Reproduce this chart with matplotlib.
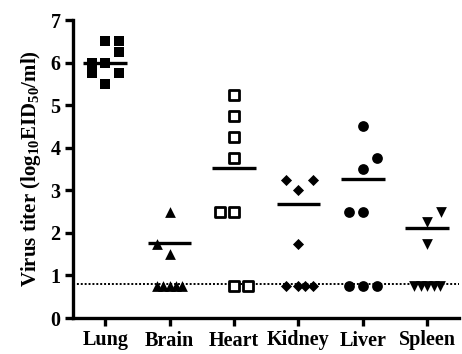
import matplotlib
matplotlib.use("Agg")
import matplotlib.pyplot as plt
import numpy as np

plt.rcParams['font.family'] = ['Liberation Serif', 'DejaVu Serif']
plt.rcParams['font.weight'] = 'bold'
plt.rcParams['mathtext.fontset'] = 'custom'
plt.rcParams['mathtext.rm'] = 'Liberation Serif:bold'
plt.rcParams['mathtext.bf'] = 'Liberation Serif:bold'
plt.rcParams['mathtext.it'] = 'Liberation Serif:bold'
plt.rcParams['mathtext.default'] = 'bf'

categories = ["Lung", "Brain", "Heart", "Kidney", "Liver", "Spleen"]

lung_vals = [6.5, 6.5, 6.25, 6.0, 6.0, 5.75, 5.75, 5.5]
lung_dx = [0.0, 0.21, 0.21, -0.21, 0.0, -0.21, 0.21, 0.0]
brain_vals = [2.5, 1.75, 1.5, 0.75, 0.75, 0.75, 0.75, 0.75]
brain_dx = [0.0, -0.2, 0.0, -0.2, -0.1, 0.0, 0.1, 0.2]
heart_vals = [5.25, 4.75, 4.25, 3.75, 2.5, 2.5, 0.75, 0.75]
heart_dx = [0.0, 0.0, 0.0, 0.0, -0.22, 0.0, 0.0, 0.22]
kidney_vals = [3.25, 3.0, 3.25, 1.75, 0.75, 0.75, 0.75, 0.75]
kidney_dx = [-0.2, 0.0, 0.22, 0.0, -0.2, 0.0, 0.11, 0.22]
liver_vals = [4.5, 3.75, 3.5, 2.5, 2.5, 0.75, 0.75, 0.75]
liver_dx = [0.0, 0.22, 0.0, -0.21, 0.0, -0.21, 0.0, 0.22]
spleen_vals = [2.5, 2.25, 1.75, 0.75, 0.75, 0.75, 0.75, 0.75]
spleen_dx = [0.22, 0.0, 0.0, -0.2, -0.1, 0.0, 0.1, 0.2]

mean_vals = [6.0, 1.77, 3.53, 2.67, 3.27, 2.11]
detection_limit = 0.8

fig = plt.figure(figsize=(4.62, 3.54), dpi=100)
ax = fig.add_axes([73/462, 36/354, 386.4/462, 298/354])

groups = [
    (lung_vals, lung_dx, dict(marker='s', s=55, c='black', linewidths=0)),
    (brain_vals, brain_dx, dict(marker='^', s=60, c='black', linewidths=0)),
    (heart_vals, heart_dx, dict(marker='s', s=50, facecolors='white', edgecolors='black', linewidths=2.0)),
    (kidney_vals, kidney_dx, dict(marker='D', s=32, c='black', linewidths=0)),
    (liver_vals, liver_dx, dict(marker='o', s=60, c='black', linewidths=0)),
    (spleen_vals, spleen_dx, dict(marker='v', s=60, c='black', linewidths=0)),
]
for i, (vals, dx, kw) in enumerate(groups):
    x = i + np.array(dx)
    ax.scatter(x, vals, zorder=3, clip_on=False, **kw)

for i, m in enumerate(mean_vals):
    ax.hlines(m, i - 0.34, i + 0.34, colors='black', linewidth=2.4, zorder=4)

ax.axhline(detection_limit, color='black', linestyle=(0, (1, 1)), linewidth=1.4, zorder=2)

ax.set_xlim(-0.5, 5.5)
ax.set_ylim(0, 7)
ax.set_yticks(range(0, 8))
ax.set_xticks(range(len(categories)))
ax.set_xticklabels(categories)

for side in ['top', 'right']:
    ax.spines[side].set_visible(False)
for side in ['left', 'bottom']:
    ax.spines[side].set_linewidth(2.4)

ax.tick_params(axis='both', which='major', length=6, width=2.4, labelsize=14.5, direction='out')
ax.tick_params(axis='y', pad=3)
ax.tick_params(axis='x', pad=3)
for lbl in ax.get_xticklabels() + ax.get_yticklabels():
    lbl.set_fontweight('bold')

ax.set_ylabel(r'Virus titer (log$_{10}$EID$_{50}$/ml)', fontsize=15, fontweight='bold', labelpad=5)

fig.savefig('out.png', dpi=100)
